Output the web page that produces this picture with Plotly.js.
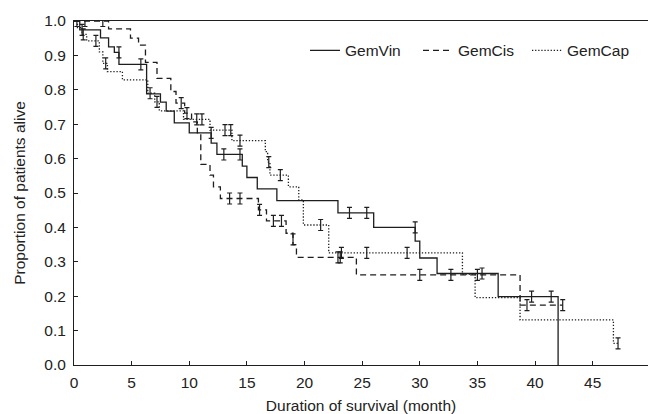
<!DOCTYPE html>
<html>
<head>
<meta charset="utf-8">
<script src="https://cdn.plot.ly/plotly-3.0.1.min.js"></script>
<style>html,body{margin:0;padding:0;background:#fff;}#chart{width:648px;height:414px;}</style>
</head>
<body>
<div id="chart"></div>
<script>
// GemVin (solid)
var vinT = [0, 0.5, 2.3, 3.0, 3.5, 3.9, 6.3, 7.5, 8.0, 8.7, 10.0, 11.9, 12.4, 14.6, 15.0, 15.9, 17.6, 22.9, 26.0, 29.6, 30.0, 31.5, 36.8, 42.0];
var vinS = [1.0, 0.974, 0.951, 0.925, 0.909, 0.874, 0.788, 0.764, 0.738, 0.704, 0.675, 0.645, 0.612, 0.578, 0.545, 0.512, 0.478, 0.442, 0.400, 0.360, 0.311, 0.266, 0.199, 0.0];
var vinCensT = [0.7, 3.9, 5.8, 11.9, 13.0, 14.4, 23.9, 25.4, 29.6, 35.4, 39.7, 41.4];
var vinCensS = [0.974, 0.909, 0.874, 0.675, 0.612, 0.612, 0.442, 0.442, 0.400, 0.266, 0.199, 0.199];

// GemCis (dashed)
var cisT = [0, 3.0, 4.9, 5.6, 6.2, 7.2, 8.4, 8.85, 9.6, 10.2, 10.7, 11.0, 11.8, 12.1, 12.7, 16.0, 16.7, 18.4, 19.0, 19.3, 24.5, 38.7, 42.4];
var cisS = [1.0, 0.977, 0.950, 0.930, 0.880, 0.833, 0.795, 0.761, 0.732, 0.707, 0.675, 0.583, 0.552, 0.518, 0.484, 0.451, 0.419, 0.383, 0.350, 0.313, 0.262, 0.174, 0.174];
var cisCensT = [0.25, 0.95, 2.5, 9.3, 9.8, 13.5, 14.4, 16.1, 17.3, 18.0, 19.0, 22.9, 23.1, 30.0, 32.7, 35.0, 39.3, 42.4];
var cisCensS = [1.0, 1.0, 1.0, 0.761, 0.732, 0.484, 0.484, 0.451, 0.419, 0.419, 0.365, 0.313, 0.313, 0.262, 0.262, 0.262, 0.174, 0.174];

// GemCap (dotted)
var capT = [0, 0.3, 0.7, 1.1, 2.2, 2.5, 2.9, 4.2, 6.4, 7.0, 7.4, 9.5, 11.8, 13.7, 16.6, 16.8, 17.0, 18.6, 19.5, 19.9, 22.1, 33.7, 34.8, 38.7, 46.8, 47.2];
var capS = [1.0, 0.981, 0.961, 0.942, 0.910, 0.877, 0.853, 0.829, 0.790, 0.765, 0.739, 0.714, 0.683, 0.652, 0.620, 0.590, 0.552, 0.518, 0.480, 0.407, 0.326, 0.264, 0.196, 0.131, 0.063, 0.063];
var capCensT = [0.8, 1.9, 2.75, 6.6, 7.2, 10.65, 11.1, 13.1, 13.6, 14.4, 16.9, 17.9, 21.4, 23.2, 25.4, 28.9, 47.2];
var capCensS = [0.961, 0.942, 0.877, 0.790, 0.765, 0.714, 0.714, 0.683, 0.683, 0.652, 0.590, 0.552, 0.407, 0.326, 0.326, 0.326, 0.063];

var seriesNames = ['GemVin', 'GemCis', 'GemCap'];
var xTicks = [0, 5, 10, 15, 20, 25, 30, 35, 40, 45];
var yTicks = [0, 0.1, 0.2, 0.3, 0.4, 0.5, 0.6, 0.7, 0.8, 0.9, 1.0];

var ink = '#1e1e1e';
var FONT = 'Liberation Sans, Arial, Helvetica, sans-serif';
var FS = 15.5;

function curve(t, s, name, dash, leg) {
  return {x: t, y: s, type: 'scatter', mode: 'lines', name: name,
    line: {shape: 'hv', color: ink, width: 1.3, dash: dash},
    legend: leg, cliponaxis: false, hoverinfo: 'skip'};
}
function cens(t, s) {
  return {x: t, y: s, type: 'scatter', mode: 'markers', showlegend: false,
    marker: {size: 1, opacity: 0, color: ink}, cliponaxis: false,
    error_y: {type: 'constant', value: 0.016, width: 2.5, thickness: 1.2, color: ink},
    hoverinfo: 'skip'};
}

var data = [
  curve(vinT, vinS, seriesNames[0], 'solid', 'legend'),
  curve(cisT, cisS, seriesNames[1], '6px,4px', 'legend2'),
  curve(capT, capS, seriesNames[2], '1.3px,1.8px', 'legend3'),
  cens(vinCensT, vinCensS),
  cens(cisCensT, cisCensS),
  cens(capCensT, capCensS)
];

function leg(xpx) {
  return {x: (xpx - 74) / 574, y: (365 - 50.7) / 344, xanchor: 'left', yanchor: 'middle',
    orientation: 'h', bgcolor: 'rgba(0,0,0,0)', borderwidth: 0, itemwidth: 30,
    font: {family: FONT, size: FS, color: '#222'}};
}

var layout = {
  width: 648, height: 414,
  margin: {l: 74, r: 0, t: 21, b: 49},
  paper_bgcolor: '#fff', plot_bgcolor: '#fff',
  font: {family: FONT, size: FS, color: '#222'},
  showlegend: true,
  legend: leg(305), legend2: leg(418), legend3: leg(527),
  xaxis: {range: [0, 49.8], tickvals: xTicks, ticktext: xTicks.map(String),
    showgrid: false, zeroline: false, showline: true, linecolor: ink, linewidth: 1,
    mirror: true, ticks: 'inside', ticklen: 4, tickcolor: ink,
    ticklabelstandoff: 3,
    tickfont: {family: FONT, size: FS, color: '#222'},
    title: {text: 'Duration of survival (month)', font: {family: FONT, size: FS, color: '#222'}, standoff: 10}},
  yaxis: {range: [0, 1.0], tickvals: yTicks, ticktext: yTicks.map(function(v){return v.toFixed(1);}),
    showgrid: false, zeroline: false, showline: true, linecolor: ink, linewidth: 1,
    ticks: 'inside', ticklen: 4, tickcolor: ink,
    ticklabelstandoff: 4,
    tickfont: {family: FONT, size: FS, color: '#222'},
    title: {text: 'Proportion of patients alive', font: {family: FONT, size: FS, color: '#222'}, standoff: 14}}
};

Plotly.newPlot('chart', data, layout, {displayModeBar: false, staticPlot: true});
</script>
</body>
</html>
